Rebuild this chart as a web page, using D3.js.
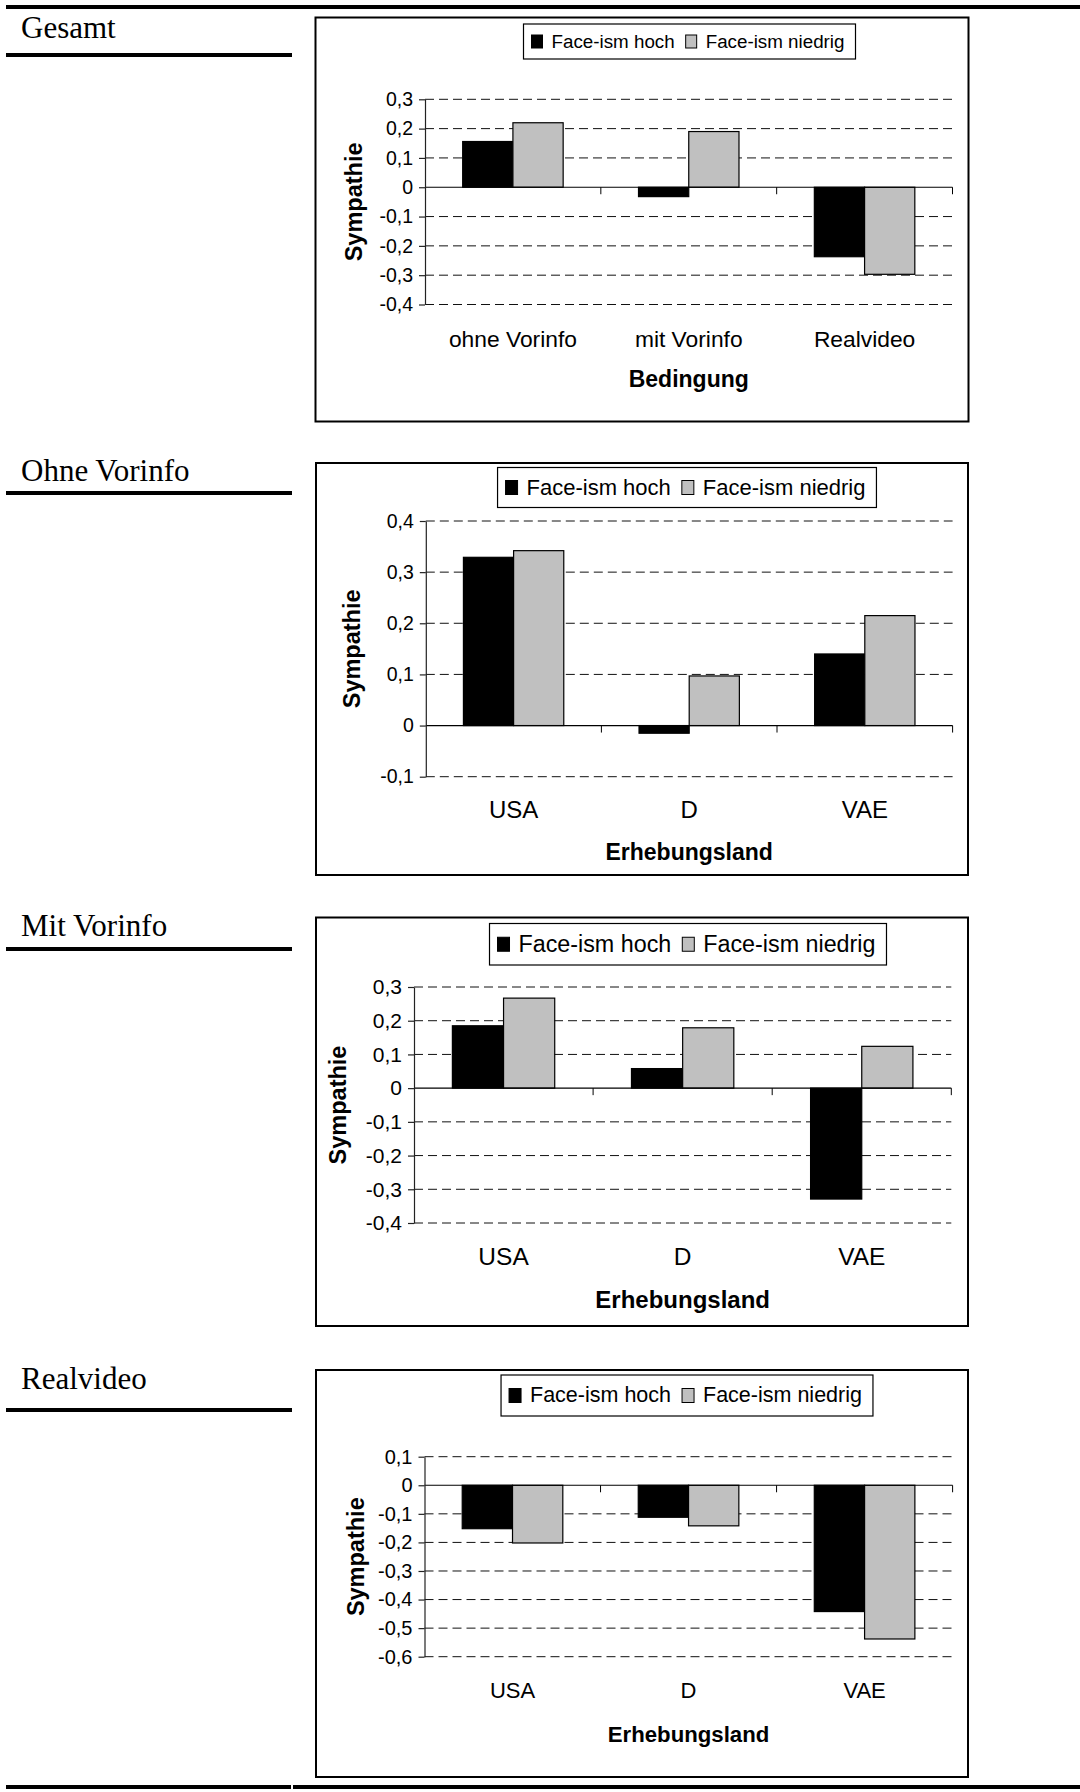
<!DOCTYPE html>
<html>
<head>
<meta charset="utf-8">
<script src="https://cdn.jsdelivr.net/npm/d3@7"></script>
<style>
  html, body { margin: 0; padding: 0; background: #fff; }
  svg { display: block; }
</style>
</head>
<body>
<svg id="page" width="1080" height="1792"></svg>
<script>
// ---- Data ---------------------------------------------------------------
const seriesNames = ["Face-ism hoch", "Face-ism niedrig"];
const panelTitles = ["Gesamt", "Ohne Vorinfo", "Mit Vorinfo", "Realvideo"];
const conditionCategories = ["ohne Vorinfo", "mit Vorinfo", "Realvideo"];
const countryCategories = ["USA", "D", "VAE"];
const xAxisTitles = ["Bedingung", "Erhebungsland", "Erhebungsland", "Erhebungsland"];
const yAxisTitle = "Sympathie";

// Sympathie by condition / country, for high and low face-ism
const gesamtHoch    = [0.156, -0.032, -0.237];
const gesamtNiedrig = [0.220,  0.190, -0.297];
const ohneHoch      = [0.329, -0.015,  0.140];
const ohneNiedrig   = [0.342,  0.097,  0.215];
const mitHoch       = [0.185,  0.058, -0.329];
const mitNiedrig    = [0.267,  0.179,  0.124];
const realHoch      = [-0.152, -0.112, -0.442];
const realNiedrig   = [-0.202, -0.142, -0.538];

// Value-axis tick labels per panel
const ticksGesamt = [0.3, 0.2, 0.1, 0, -0.1, -0.2, -0.3, -0.4];
const ticksOhne   = [0.4, 0.3, 0.2, 0.1, 0, -0.1];
const ticksMit    = [0.3, 0.2, 0.1, 0, -0.1, -0.2, -0.3, -0.4];
const ticksReal   = [0.1, 0, -0.1, -0.2, -0.3, -0.4, -0.5, -0.6];

// ---- Panel assembly -----------------------------------------------------
const panelData = [
  { categories: conditionCategories, series: [gesamtHoch, gesamtNiedrig], ticks: ticksGesamt },
  { categories: countryCategories,   series: [ohneHoch, ohneNiedrig],     ticks: ticksOhne },
  { categories: countryCategories,   series: [mitHoch, mitNiedrig],       ticks: ticksMit },
  { categories: countryCategories,   series: [realHoch, realNiedrig],     ticks: ticksReal }
];

// Page geometry of each panel
const panelLayout = [
  { box: [315.5, 17.5, 968.5, 421.5], plot: { left: 425,   right: 952.5, top: 99.3,   bottom: 304.5 },
    legend: { top: 24,    h: 35,   cx: 689.5, font: 18.8, sq: [11, 13] }, tickFont: 19.5, catFont: 22.8, axisFont: 23,
    catY: 346.7, axisY: 386.7, yTitleX: 362, titleY: 37.5, ruleY: 55 },
  { box: [316, 463, 968, 875],        plot: { left: 425.8, right: 952.6, top: 521,    bottom: 776.7 },
    legend: { top: 467.5, h: 40,   cx: 687,   font: 22,   sq: [12, 14] }, tickFont: 19.5, catFont: 24,   axisFont: 23,
    catY: 818,   axisY: 860,   yTitleX: 360, titleY: 481,  ruleY: 493 },
  { box: [316, 917.5, 968, 1326],     plot: { left: 414,   right: 951.3, top: 987,    bottom: 1223 },
    legend: { top: 923.5, h: 41.5, cx: 688,   font: 23.3, sq: [12, 14] }, tickFont: 21,   catFont: 24.5, axisFont: 24,
    catY: 1265,  axisY: 1308,  yTitleX: 346, titleY: 936,  ruleY: 949 },
  { box: [316, 1370, 968, 1777],      plot: { left: 424.5, right: 952.6, top: 1456.7, bottom: 1656.7 },
    legend: { top: 1375,  h: 41,   cx: 687,   font: 21.5, sq: [12, 14] }, tickFont: 20,   catFont: 22,   axisFont: 22.2,
    catY: 1698,  axisY: 1741.7, yTitleX: 364, titleY: 1389, ruleY: 1410 }
];

const SANS = "'Liberation Sans', Arial, Helvetica, sans-serif";
const SERIF = "'Liberation Serif', 'Times New Roman', serif";
const fills = ["#000000", "#c0c0c0"];

const locale = d3.formatLocale({ decimal: ",", thousands: ".", grouping: [3], currency: ["", " €"], minus: "-" });
const fmt = locale.format(".1~f");

const svg = d3.select("#page");

// Table rules framing the page
svg.append("rect").attr("x", 6).attr("y", 5).attr("width", 1074).attr("height", 4).attr("fill", "#000");
svg.append("rect").attr("x", 6).attr("y", 1785).attr("width", 285).attr("height", 4).attr("fill", "#000");
svg.append("rect").attr("x", 293).attr("y", 1785).attr("width", 787).attr("height", 4).attr("fill", "#000");

panelData.forEach((d, i) => drawPanel(d, panelLayout[i], panelTitles[i], xAxisTitles[i]));

function drawPanel(d, L, title, xTitle) {
  // Side heading with its rule
  svg.append("text")
    .attr("x", 21).attr("y", L.titleY)
    .attr("font-family", SERIF).attr("font-size", 31)
    .text(title);
  svg.append("rect").attr("x", 6).attr("y", L.ruleY - 2).attr("width", 286).attr("height", 4).attr("fill", "#000");

  const g = svg.append("g");

  // Chart frame
  g.append("rect")
    .attr("x", L.box[0]).attr("y", L.box[1])
    .attr("width", L.box[2] - L.box[0]).attr("height", L.box[3] - L.box[1])
    .attr("fill", "none").attr("stroke", "#000").attr("stroke-width", 2);

  const ticks = d.ticks;
  const y = d3.scaleLinear()
    .domain([d3.min(ticks), d3.max(ticks)])
    .range([L.plot.bottom, L.plot.top]);
  const x = d3.scaleBand().domain(d.categories).range([L.plot.left, L.plot.right]).padding(0);
  const xs = d3.scaleBand().domain(d3.range(d.series.length)).range([0, x.bandwidth()])
    .paddingInner(0).paddingOuter(0.75);

  // Dashed gridlines
  g.append("g").selectAll("line")
    .data(ticks.filter(t => t !== 0))
    .join("line")
    .attr("x1", L.plot.left).attr("x2", L.plot.right)
    .attr("y1", t => y(t)).attr("y2", t => y(t))
    .attr("stroke", "#111").attr("stroke-width", 1)
    .attr("stroke-dasharray", "9,5");

  // Bars
  d.series.forEach((vals, s) => {
    g.append("g").selectAll("rect")
      .data(vals)
      .join("rect")
      .attr("x", (v, k) => x(d.categories[k]) + xs(s))
      .attr("y", v => y(Math.max(0, v)))
      .attr("width", xs.bandwidth())
      .attr("height", v => Math.abs(y(v) - y(0)))
      .attr("fill", fills[s])
      .attr("stroke", "#000").attr("stroke-width", 1.2);
  });

  // Category axis at zero with boundary ticks
  const y0 = y(0);
  g.append("line")
    .attr("x1", L.plot.left).attr("x2", L.plot.right)
    .attr("y1", y0).attr("y2", y0)
    .attr("stroke", "#000").attr("stroke-width", 1.2);
  const bounds = d.categories.slice(1).map(c => x(c)).concat([L.plot.right]);
  g.append("g").selectAll("line")
    .data(bounds)
    .join("line")
    .attr("x1", b => b).attr("x2", b => b)
    .attr("y1", y0).attr("y2", y0 + 7)
    .attr("stroke", "#000").attr("stroke-width", 1);

  // Value axis
  const ax = g.append("g")
    .attr("transform", `translate(${L.plot.left},0)`)
    .call(d3.axisLeft(y).tickValues(ticks).tickSize(6).tickSizeOuter(0).tickPadding(6).tickFormat(fmt));
  ax.attr("font-family", SANS).attr("font-size", L.tickFont);
  ax.select(".domain").attr("stroke", "#222").attr("stroke-width", 1.2);
  ax.selectAll(".tick line").attr("stroke", "#222").attr("stroke-width", 1.2);
  ax.selectAll(".tick text").attr("fill", "#000");

  // Category labels
  g.append("g").selectAll("text")
    .data(d.categories)
    .join("text")
    .attr("x", c => x(c) + x.bandwidth() / 2)
    .attr("y", L.catY)
    .attr("text-anchor", "middle")
    .attr("font-family", SANS).attr("font-size", L.catFont)
    .text(c => c);

  // Axis titles
  const cx = (L.plot.left + L.plot.right) / 2;
  g.append("text")
    .attr("x", cx).attr("y", L.axisY)
    .attr("text-anchor", "middle")
    .attr("font-family", SANS).attr("font-weight", "bold").attr("font-size", L.axisFont)
    .text(xTitle);
  g.append("text")
    .attr("transform", `translate(${L.yTitleX},${(L.plot.top + L.plot.bottom) / 2}) rotate(-90)`)
    .attr("text-anchor", "middle")
    .attr("font-family", SANS).attr("font-weight", "bold").attr("font-size", 23.5)
    .text(yAxisTitle);

  // Legend
  const lg = g.append("g");
  const lf = L.legend.font;
  const [sqW, sqH] = L.legend.sq;
  const midY = L.legend.top + L.legend.h / 2;
  const box = lg.append("rect").attr("fill", "#fff").attr("stroke", "#000").attr("stroke-width", 1.2);
  const items = [];
  seriesNames.forEach((name, s) => {
    const sq = lg.append("rect").attr("width", sqW).attr("height", sqH)
      .attr("fill", fills[s]).attr("stroke", "#000").attr("stroke-width", 1);
    const t = lg.append("text").attr("font-family", SANS).attr("font-size", lf).text(name);
    items.push({ sq, t, w: t.node().getComputedTextLength() });
  });
  const padL = 8, padR = 11, sqGap = 9, itemGap = 11;
  const total = padL + items.reduce((acc, it) => acc + sqW + sqGap + it.w, 0) + itemGap * (items.length - 1) + padR;
  const x0 = L.legend.cx - total / 2;
  box.attr("x", x0).attr("y", L.legend.top).attr("width", total).attr("height", L.legend.h);
  let cursor = x0 + padL;
  items.forEach(it => {
    it.sq.attr("x", cursor).attr("y", midY - sqH / 2);
    cursor += sqW + sqGap;
    it.t.attr("x", cursor).attr("y", midY + lf * 0.32);
    cursor += it.w + itemGap;
  });
}
</script>
</body>
</html>
